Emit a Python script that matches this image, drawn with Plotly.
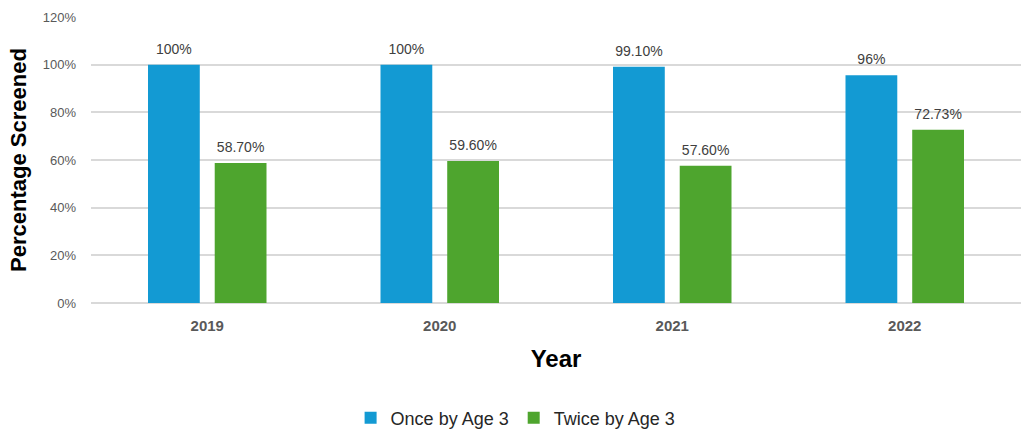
import plotly.graph_objects as go

years = ["2019", "2020", "2021", "2022"]
once_vals = [1.00, 1.00, 0.991, 0.956]
once_labels = ["100%", "100%", "99.10%", "96%"]
twice_vals = [0.587, 0.596, 0.576, 0.7273]
twice_labels = ["58.70%", "59.60%", "57.60%", "72.73%"]

BLUE = "#139AD3"
GREEN = "#4EA52E"
FONT = "Liberation Sans"

fig = go.Figure()
for name, vals, labels, color in [
    ("Once by Age 3", once_vals, once_labels, BLUE),
    ("Twice by Age 3", twice_vals, twice_labels, GREEN),
]:
    fig.add_trace(go.Bar(
        x=years, y=vals, name=name,
        marker=dict(color=color, line=dict(width=0)),
        offsetgroup=name,
    ))
for name, vals, labels in [
    ("Once by Age 3", once_vals, once_labels),
    ("Twice by Age 3", twice_vals, twice_labels),
]:
    fig.add_trace(go.Scatter(
        x=years, y=vals, mode="markers+text", text=labels,
        textposition="top center", offsetgroup=name,
        marker=dict(size=10, color="rgba(0,0,0,0)"),
        textfont=dict(family=FONT, size=14, color="#404040"),
        showlegend=False, hoverinfo="skip", cliponaxis=False,
    ))

fig.update_layout(
    width=1021, height=430,
    margin=dict(l=91, r=0, t=17, b=127),
    paper_bgcolor="white", plot_bgcolor="white",
    barmode="group", bargap=0.426, bargroupgap=0.224,
    scattermode="group", scattergap=0.426,
    font=dict(family=FONT, color="#595959"),
    legend=dict(
        orientation="h", xref="container", yref="container",
        x=0.505, xanchor="center", y=0.028, yanchor="middle",
        font=dict(family=FONT, size=18, color="#262626"),
        itemwidth=30, traceorder="normal",
    ),
    xaxis=dict(
        showgrid=False, showline=False, zeroline=False,
        tickfont=dict(family=FONT, size=15, color="#595959", weight="bold"),
        ticks="", ticklabelstandoff=12,
        title=dict(text="<b>Year</b>", font=dict(family=FONT, size=24, color="#000000"), standoff=17),
    ),
    yaxis=dict(
        range=[0, 1.2], dtick=0.2, tickformat=".0%",
        showgrid=True, gridcolor="#D9D9D9", gridwidth=1.5,
        zeroline=True, zerolinecolor="#D9D9D9", zerolinewidth=1.5,
        showline=False, ticks="", ticklabelstandoff=14,
        tickfont=dict(family=FONT, size=13, color="#595959"),
        title=dict(text="<b>Percentage Screened</b>", font=dict(family=FONT, size=22, color="#000000"), standoff=10),
    ),
)

fig.write_html("out.html")
